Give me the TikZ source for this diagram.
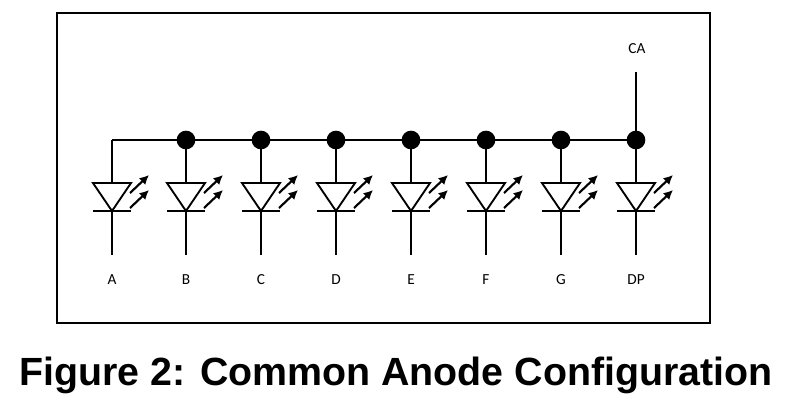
\documentclass[tikz,border=0pt]{standalone}
\usepackage{fontspec}
\setmainfont{Liberation Sans}
\newfontfamily\lblfont{Carlito}
\usetikzlibrary{arrows.meta}
\begin{document}
\begin{tikzpicture}[x=0.75pt,y=-0.75pt,
  wire/.style={line width=1.6pt},
  dot/.style={circle,fill=black,inner sep=0pt,minimum size=14pt},
  lbl/.style={font=\lblfont\fontsize{11.5}{13}\selectfont},
  lightarrow/.style={line width=1.6pt,-{Latex[length=7pt,width=7pt]}}]
\useasboundingbox (0,0) rectangle (790,401);
\draw[line width=1.5pt] (57,13) rectangle (710,323);
\foreach \x/\n/\t in {112/a/A,186/b/B,261/c/C,336/d/D,411/e/E,486/f/F,561/g/G,636/dp/DP}{
  \coordinate (top\n) at (\x,140);
  \coordinate (tri\n) at (\x,183);
  \coordinate (bar\n) at (\x,211);
  \coordinate (end\n) at (\x,255);
  \draw[wire] (top\n) -- (tri\n);
  \draw[line width=1.4pt] (\x-19,183) -- (\x+19,183) -- (\x,211) -- cycle;
  \draw[wire] (\x-19,211) -- (\x+19,211);
  \draw[wire] (bar\n) -- (end\n);
  \draw[lightarrow] (\x+18,193) -- (\x+37,175);
  \draw[lightarrow] (\x+18,208) -- (\x+37,190);
  \node[lbl] (l\n) at (\x,280) {\t};
}
\draw[wire] (topa) -- (topdp);
\foreach \n in {b,c,d,e,f,g,dp}{\node[dot] (d\n) at (top\n) {};}
\coordinate (caend) at (636,72);
\draw[wire] (topdp) -- (caend);
\node[lbl] (ca) at (637,49) {CA};
\node[font=\bfseries\fontsize{29.5}{34}\selectfont] (title) at (396,375) {Figure 2: Common Anode Configuration};
\end{tikzpicture}
\end{document}
